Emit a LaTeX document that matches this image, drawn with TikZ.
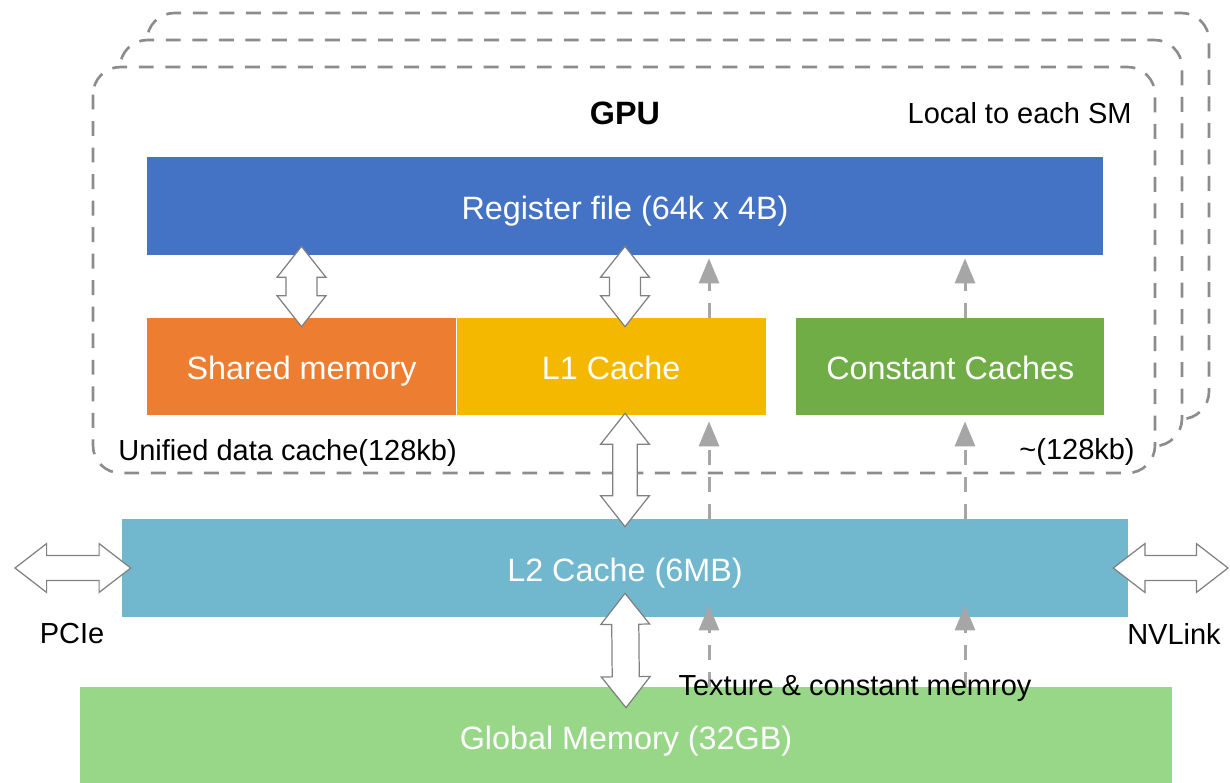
\documentclass[tikz,border=0pt]{standalone}
\usepackage{fontspec}
\setmainfont{Liberation Sans}
\usepackage{tikz}
\usetikzlibrary{arrows.meta, positioning, calc}

\definecolor{regblue}{HTML}{4472C4}
\definecolor{shmorange}{HTML}{ED7D31}
\definecolor{lonegold}{HTML}{F5B800}
\definecolor{constgreen}{HTML}{70AD47}
\definecolor{ltwoblue}{HTML}{71B7CD}
\definecolor{globgreen}{HTML}{97D787}
\definecolor{framegray}{HTML}{8C8C8C}
\definecolor{texgray}{HTML}{A6A6A6}

\newcommand{\headlen}{17.6pt}
\newcommand{\headhalf}{13.9pt}
\newcommand{\shafthalf}{7.7pt}

\tikzset{
        membox/.style={rectangle, inner sep=0pt, text=white, text height=15pt, text depth=0pt, font=\fontsize{18.4}{22}\selectfont},
        note/.style={inner sep=0pt, font=\fontsize{16.5}{20}\selectfont},
        smframe/.style={draw=framegray, fill=white, line width=1.5pt, dash pattern=on 8.5pt off 6.6pt, rounded corners=0.55cm},
        texarrow/.style={draw=texgray, line width=1.7pt, dash pattern=on 8.5pt off 6.8pt, -{Triangle[length=0.5cm, width=0.4cm]}},
        shaft half/.code={\renewcommand{\shafthalf}{#1}},
        head length/.code={\renewcommand{\headlen}{#1}},
        dblarrow/.style={draw=black!50, fill=white, line width=0.7pt, to path={
            -- ($(\tikztostart)!\headlen!(\tikztotarget)!\headhalf!90:(\tikztotarget)$)
            -- ($(\tikztostart)!\headlen!(\tikztotarget)!\shafthalf!90:(\tikztotarget)$)
            -- ($(\tikztotarget)!\headlen!(\tikztostart)!\shafthalf!-90:(\tikztostart)$)
            -- ($(\tikztotarget)!\headlen!(\tikztostart)!\headhalf!-90:(\tikztostart)$)
            -- (\tikztotarget)
            -- ($(\tikztotarget)!\headlen!(\tikztostart)!\headhalf!90:(\tikztostart)$)
            -- ($(\tikztotarget)!\headlen!(\tikztostart)!\shafthalf!90:(\tikztostart)$)
            -- ($(\tikztostart)!\headlen!(\tikztotarget)!\shafthalf!-90:(\tikztotarget)$)
            -- ($(\tikztostart)!\headlen!(\tikztotarget)!\headhalf!-90:(\tikztotarget)$)
            -- cycle}},
    }

\begin{document}
\begin{tikzpicture}[x=0.02cm, y=-0.02cm]
        \useasboundingbox (0,0) rectangle (1230,782);

        % SM FRAMES (back to front)
        \draw[smframe] (147,13) rectangle (1209,419);
        \draw[smframe] (120,40) rectangle (1182,446);
        \draw[smframe] (93,67) rectangle (1155,473);

        \node[font=\fontsize{18.4}{22}\selectfont\bfseries] (gpu) at (625,113) {GPU};
        \node[note, anchor=east] (local) at (1132,113) {Local to each SM};

        % MEMORIES
        \node[membox, fill=regblue, minimum width=19.12cm, minimum height=1.96cm] (reg) at (625,206) {Register file (64k x 4B)};
        \node[membox, fill=shmorange, minimum width=6.18cm, minimum height=1.94cm] (shm) at (301.5,366.5) {Shared memory};
        \node[membox, fill=lonegold, minimum width=6.18cm, minimum height=1.94cm, right=0pt of shm] (lone) {L1 Cache};
        \node[membox, fill=constgreen, minimum width=6.16cm, minimum height=1.94cm, right=0.6cm of lone] (const) {Constant Caches};
        \node[membox, fill=ltwoblue, minimum width=20.12cm, minimum height=1.96cm] (ltwo) at (625,568) {L2 Cache (6MB)};
        \node[membox, fill=globgreen, minimum width=21.84cm, minimum height=1.96cm] (glob) at (626,736) {Global Memory (32GB)};

        \node[note, anchor=west] (unified) at (118,453) {Unified data cache(128kb)};
        \node[note, anchor=east] (constsize) at (1135,452) {\textasciitilde(128kb)};

        % Texture & constant path
        \coordinate (colA) at (709,0);
        \coordinate (colB) at (965,0);
        \foreach \col in {colA, colB} {
            \draw[texarrow] (\col |- glob.north) -- ([yshift=0.24cm]\col |- ltwo.south);
            \draw[texarrow] (\col |- ltwo.north) -- ([yshift=-0.12cm]\col |- const.south);
            \draw[texarrow] (\col |- const.north) -- ([yshift=-0.06cm]\col |- reg.south);
        }
        \node[note] (texlabel) at (855,688) {Texture \& constant memroy};

        % Data paths
        \draw[dblarrow, shaft half=8.8pt] ([yshift=0.18cm]reg.south -| shm.north) to ([yshift=-0.18cm]shm.north);
        \draw[dblarrow, shaft half=8.8pt] ([yshift=0.18cm]reg.south) to ([yshift=-0.18cm]lone.north -| reg.south);
        \draw[dblarrow, shaft half=7pt] ([yshift=0.04cm]lone.south -| reg.south) to ([yshift=-0.16cm]ltwo.north);
        \draw[dblarrow] ([yshift=0.48cm]ltwo.south) to ([yshift=-0.42cm]glob.north);

        % Links
        \coordinate (pcie) at (15,568);
        \coordinate (nvl) at (1228,568);
        \draw[dblarrow, shaft half=7.1pt, head length=18pt] (pcie) to ([xshift=0.18cm]ltwo.west);
        \draw[dblarrow, shaft half=7.1pt, head length=18pt] ([xshift=-0.3cm]ltwo.east) to (nvl);
        \node[note] (pcielabel) at (72,634) {PCIe};
        \node[note] (nvllabel) at (1174,634) {NVLink};

    \end{tikzpicture}
\end{document}
